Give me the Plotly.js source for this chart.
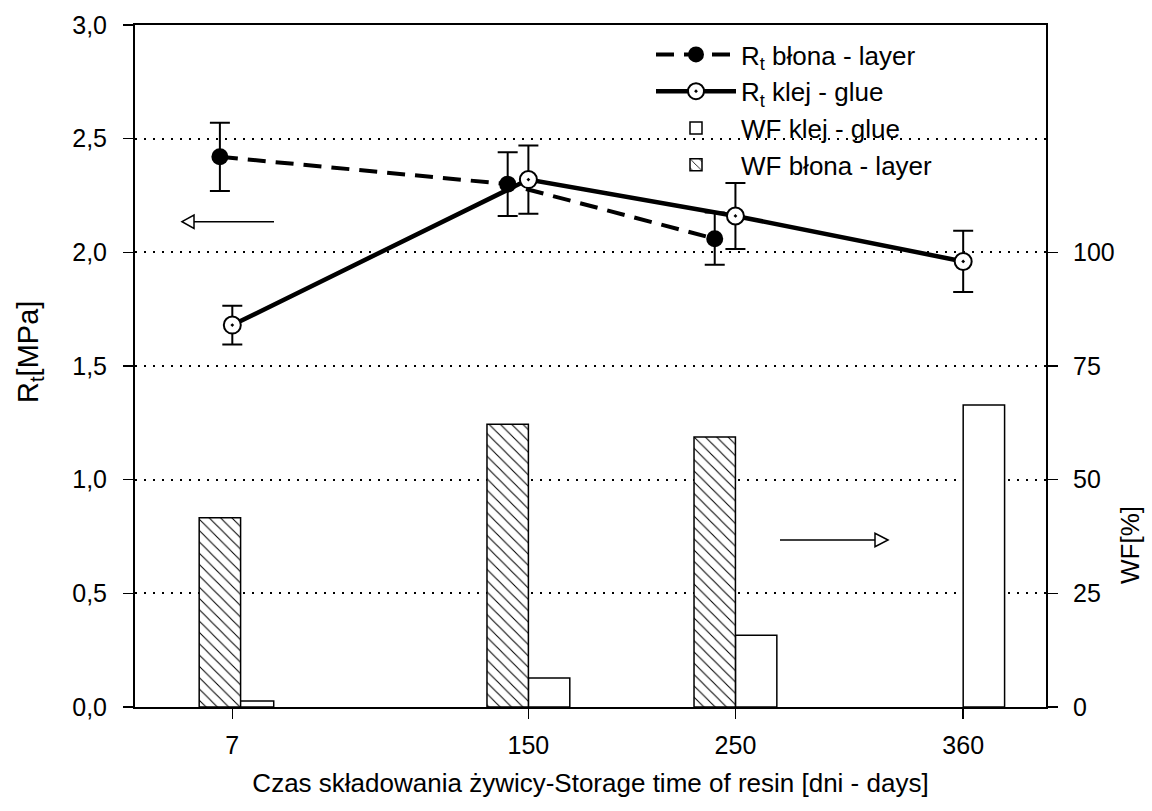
<!DOCTYPE html>
<html>
<head>
<meta charset="utf-8">
<script src="https://cdn.plot.ly/plotly-3.0.1.min.js"></script>
<style>html,body{margin:0;padding:0;background:#fff;}#chart{width:1152px;height:811px;}</style>
</head>
<body>
<div id="chart"></div>
<script>
// ---- data ----
const tickDays = [7, 150, 250, 360];
const tickLabels = ['7', '150', '250', '360'];
const layerDays = [1, 140, 240];          // "błona - layer" series as placed on the day axis
const glueDays = [7, 150, 250, 360];      // "klej - glue" series
const rtLayer = [2.42, 2.30, 2.06];
const rtLayerErr = [0.15, 0.14, 0.115];
const rtGlue = [1.68, 2.32, 2.16, 1.96];
const rtGlueErr = [0.085, 0.15, 0.145, 0.135];
const wfLayer = [41.6, 62.2, 59.4];
const wfGlue = [1.3, 6.4, 15.8, 66.4];
const leftTicks = [0, 0.5, 1.0, 1.5, 2.0, 2.5, 3.0];
const rightTicks = [0, 25, 50, 75, 100];

const FONT = 'Liberation Sans, Arial, sans-serif';
const W = 1152, H = 811;
const M = {l: 135, r: 106, t: 25, b: 104};
const PW = W - M.l - M.r, PH = H - M.t - M.b;
const X = px => (px - M.l) / PW;
const Y = py => (H - M.b - py) / PH;

const traces = [
  {
    type: 'bar', name: 'WF klej - glue', x: glueDays, y: wfGlue, yaxis: 'y2',
    width: 20, offset: 0,
    marker: {color: '#ffffff', line: {color: '#000', width: 1.5}},
    legendgroup: 'g3', legendrank: 3
  },
  {
    type: 'bar', name: 'WF błona - layer', x: layerDays, y: wfLayer, yaxis: 'y2',
    width: 20, offset: -10,
    marker: {color: '#ffffff', line: {color: '#000', width: 1.5},
             pattern: {shape: '\\', fgcolor: '#000', bgcolor: '#fff', size: 8, solidity: 0.13}},
    legendgroup: 'g4', legendrank: 4
  },
  {
    type: 'scatter', mode: 'lines+markers', name: 'R<sub>t</sub> błona - layer',
    x: layerDays, y: rtLayer,
    error_y: {type: 'data', array: rtLayerErr, visible: true, color: '#000', thickness: 2, width: 10},
    line: {color: '#000', width: 4, dash: '18px,10px'},
    marker: {symbol: 'circle', size: 17, color: '#000'},
    legendgroup: 'g1', legendrank: 1
  },
  {
    type: 'scatter', mode: 'lines+markers', name: 'R<sub>t</sub> klej - glue',
    x: glueDays, y: rtGlue,
    error_y: {type: 'data', array: rtGlueErr, visible: true, color: '#000', thickness: 2, width: 10},
    line: {color: '#000', width: 4.5},
    marker: {symbol: 'circle-dot', size: 17, color: '#fff', line: {color: '#000', width: 2}},
    legendgroup: 'g2', legendrank: 2
  }
];

const shapes = [
  // left-pointing arrow (R_t on left axis)
  {type: 'line', xref: 'paper', yref: 'paper', x0: X(274), x1: X(190), y0: Y(221.7), y1: Y(221.7), line: {color: '#000', width: 1.5}},
  {type: 'path', xref: 'paper', yref: 'paper',
   path: `M${X(182)},${Y(221.7)} L${X(194)},${Y(215)} L${X(194)},${Y(228.4)} Z`,
   fillcolor: '#fff', line: {color: '#000', width: 1.5}},
  // right-pointing arrow (WF on right axis)
  {type: 'line', xref: 'paper', yref: 'paper', x0: X(780), x1: X(876), y0: Y(540), y1: Y(540), line: {color: '#000', width: 1.5}},
  {type: 'path', xref: 'paper', yref: 'paper',
   path: `M${X(888)},${Y(540)} L${X(875)},${Y(533.3)} L${X(875)},${Y(546.7)} Z`,
   fillcolor: '#fff', line: {color: '#000', width: 1.5}}
];

const annotations = [
  {text: 'R<sub>t</sub>[MPa]', xref: 'paper', yref: 'paper', x: X(30), y: Y(352),
   xanchor: 'center', yanchor: 'middle', textangle: -90, showarrow: false,
   font: {family: FONT, size: 29, color: '#000'}},
  {text: 'WF[%]', xref: 'paper', yref: 'paper', x: X(1130), y: Y(545),
   xanchor: 'center', yanchor: 'middle', textangle: -90, showarrow: false,
   font: {family: FONT, size: 26, color: '#000'}}
];

const layout = {
  width: W, height: H,
  margin: M,
  paper_bgcolor: '#fff', plot_bgcolor: '#fff',
  font: {family: FONT, size: 25, color: '#000'},
  separators: ', ',
  barmode: 'overlay',
  showlegend: true,
  legend: {
    x: X(651), y: Y(31), xanchor: 'left', yanchor: 'top',
    bgcolor: 'rgba(0,0,0,0)', borderwidth: 0,
    font: {family: FONT, size: 26, color: '#000'},
    traceorder: 'grouped', tracegroupgap: 0, itemwidth: 80
  },
  xaxis: {
    range: [-40, 400], tickvals: tickDays, ticktext: tickLabels,
    ticks: 'outside', ticklen: 10, tickwidth: 1.5, tickcolor: '#000',
    showline: true, linecolor: '#000', linewidth: 2, mirror: true,
    showgrid: false, zeroline: false, automargin: false,
    tickfont: {family: FONT, size: 25}, ticklabelstandoff: 5,
    title: {text: 'Czas składowania żywicy-Storage time of resin [dni - days]', font: {family: FONT, size: 26}, standoff: 16}
  },
  yaxis: {
    range: [0, 3], tickvals: leftTicks, tickformat: '.1f',
    ticks: 'outside', ticklen: 10, tickwidth: 1.5, tickcolor: '#000',
    showline: true, linecolor: '#000', linewidth: 2,
    showgrid: true, gridcolor: '#000', gridwidth: 2, griddash: '2px,7px',
    zeroline: false, automargin: false,
    tickfont: {family: FONT, size: 25}, ticklabelstandoff: 11
  },
  yaxis2: {
    overlaying: 'y', side: 'right', anchor: 'x',
    range: [0, 150], tickvals: rightTicks,
    ticks: 'outside', ticklen: 10, tickwidth: 1.5, tickcolor: '#000',
    showline: true, linecolor: '#000', linewidth: 2,
    showgrid: false, zeroline: false, automargin: false,
    tickfont: {family: FONT, size: 25}, ticklabelstandoff: 10
  },
  shapes: shapes,
  annotations: annotations
};

Plotly.newPlot('chart', traces, layout, {displayModeBar: false, staticPlot: true});
</script>
</body>
</html>
